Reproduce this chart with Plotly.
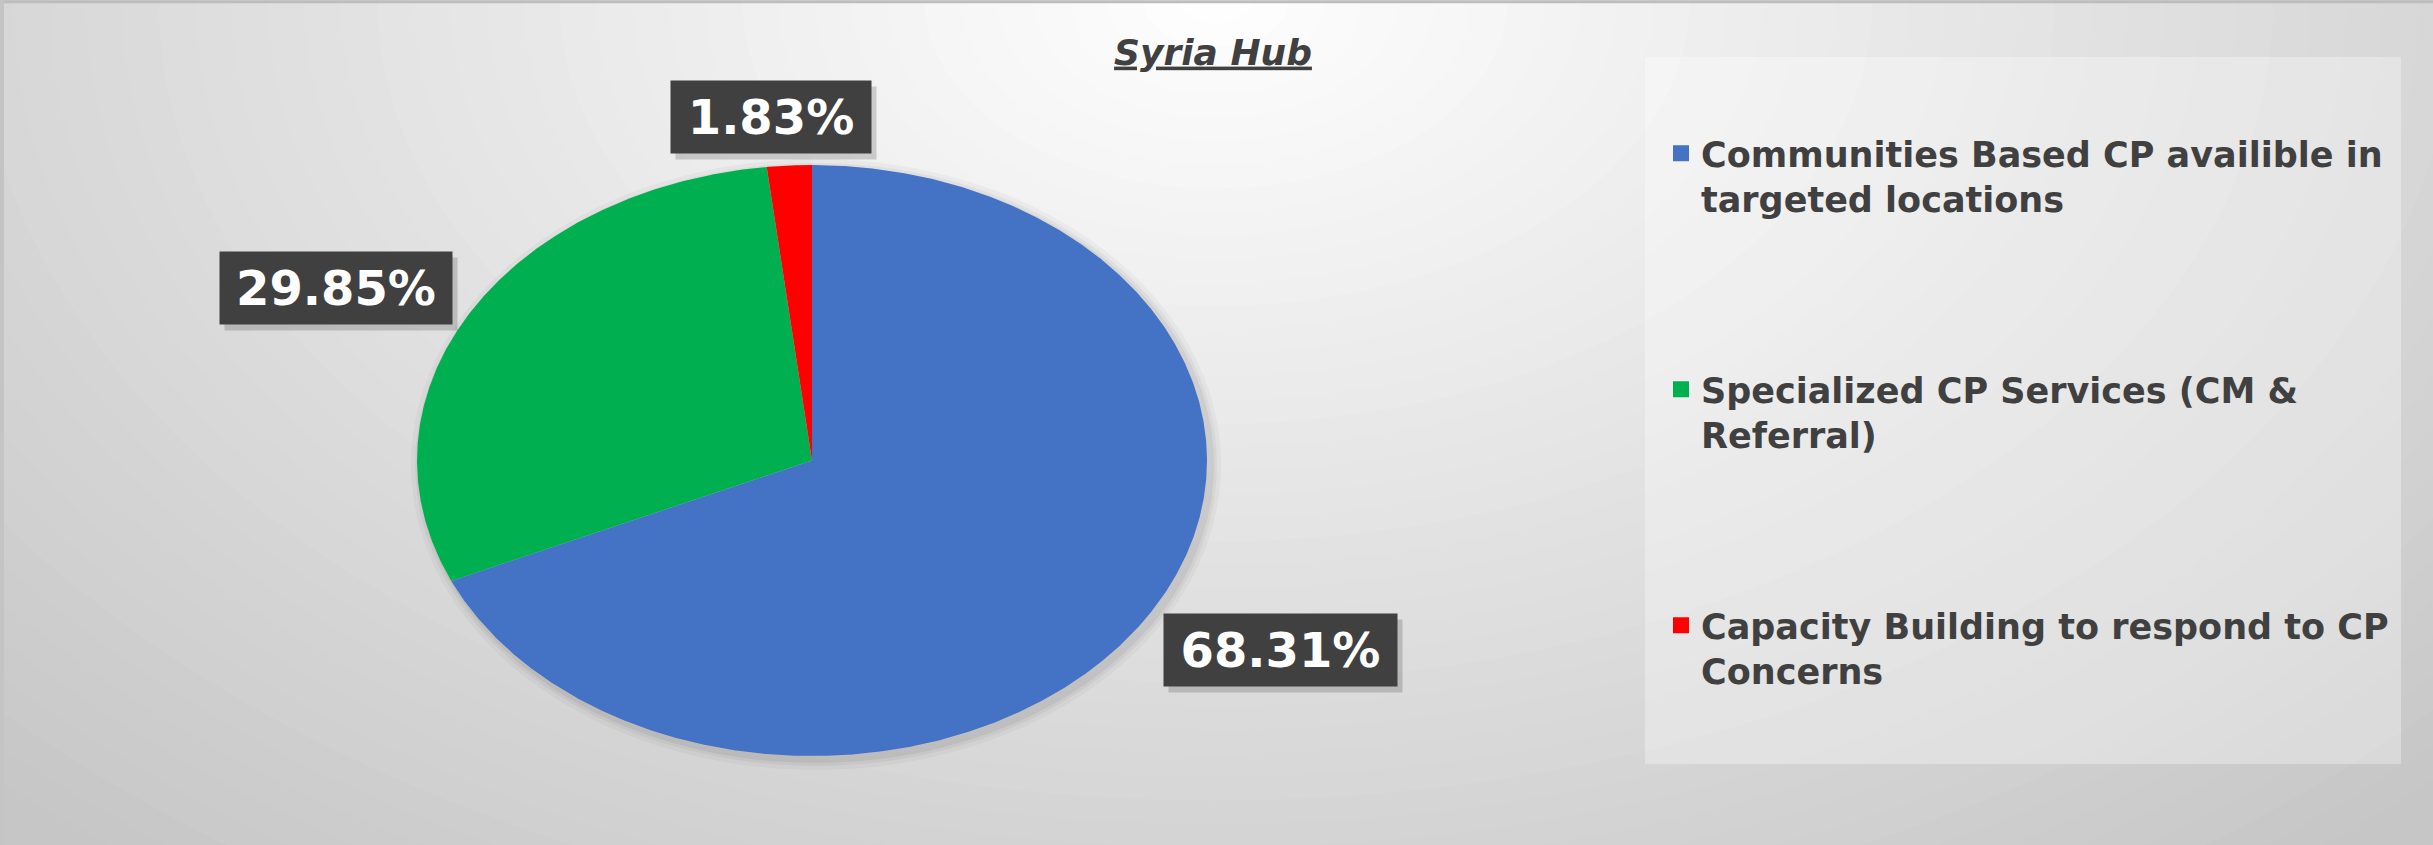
import numpy as np
import plotly.graph_objects as go

# ---------------- data ----------------
categories = [
    "Communities Based CP availible in targeted locations",
    "Specialized CP Services (CM & Referral)",
    "Capacity Building to respond to CP Concerns",
]
legend_names = [
    "Communities Based CP availible in<br>targeted locations",
    "Specialized CP Services (CM &<br>Referral)",
    "Capacity Building to respond to CP<br>Concerns",
]
values = [68.31, 29.85, 1.83]
title_text = "Syria Hub"

# ---------------- style ----------------
W, H = 2433, 845
colors = ["#4472C4", "#00B050", "#FF0000"]
label_box_w = [233, 232, 200]
label_shift = [(137, -29), (-133, 26), (-18, 48)]   # px offset from slice edge point
PIE_L, PIE_R, PIE_T, PIE_B = 417, 1207, 165, 756     # px box of the (stretched) pie

fig = go.Figure()

# pie wedges drawn on cartesian axes (unit circle stretched by axis domains)
total = float(sum(values))
fracs = [v / total for v in values]
start = 0.0
mids = []
for i, (cat, v, f) in enumerate(zip(categories, values, fracs)):
    n = max(int(f * 1440), 6)
    t = np.linspace(start, start + f, n) * 2 * np.pi
    xs = np.concatenate([[0.0], np.sin(t), [0.0]])
    ys = np.concatenate([[0.0], np.cos(t), [0.0]])
    fig.add_trace(go.Scatter(
        x=xs, y=ys, mode="lines", fill="toself", fillcolor=colors[i],
        line=dict(width=0, color=colors[i]), hoveron="fills",
        name=cat, text=f"{cat}: {v:.2f}%", hoverinfo="text", showlegend=False,
    ))
    mids.append((start + f / 2) * 2 * np.pi)
    start += f

# legend entries
for i, name in enumerate(legend_names):
    fig.add_trace(go.Scatter(
        x=[None], y=[None], mode="markers", name=f"<b>{name}</b>",
        marker=dict(symbol="square", size=24, color=colors[i]),
        legendgroup=str(i), showlegend=True, hoverinfo="skip",
    ))

# ---------------- background gradient ----------------
shapes = []
cx, cy = 1216, 0
RX, RY = 1750, 1130
N = 48
for k in range(N, 0, -1):
    r = k / N
    b = int(round(255 - 57 * r))
    shapes.append(dict(
        type="circle", xref="paper", yref="paper", layer="below",
        x0=(cx - RX * r) / W, x1=(cx + RX * r) / W,
        y0=1 - (cy + RY * r) / H, y1=1 - (cy - RY * r) / H,
        fillcolor=f"rgb({b},{b},{b})", line=dict(width=0),
    ))
# legend panel
shapes.append(dict(
    type="rect", xref="paper", yref="paper", layer="below",
    x0=1645 / W, x1=2401 / W, y0=1 - 764 / H, y1=1 - 57 / H,
    fillcolor="rgba(255,255,255,0.32)", line=dict(width=0),
))
# soft shadow around pie
for k, a in [(10, 0.03), (6, 0.04), (3, 0.05)]:
    shapes.append(dict(
        type="circle", xref="paper", yref="paper", layer="below",
        x0=(PIE_L - k + 4) / W, x1=(PIE_R + k + 4) / W,
        y0=1 - (PIE_B + k + 4) / H, y1=1 - (PIE_T - k + 4) / H,
        fillcolor=f"rgba(0,0,0,{a})", line=dict(width=0),
    ))
# frame lines
shapes.append(dict(type="line", xref="paper", yref="paper", x0=0, x1=1, y0=0.998, y1=0.998,
                   line=dict(color="#bdbdbd", width=3)))
shapes.append(dict(type="line", xref="paper", yref="paper", x0=0.0008, x1=0.0008, y0=0, y1=1,
                   line=dict(color="#c4c4c4", width=4)))

# ---------------- data labels ----------------
annotations = []
for i, v in enumerate(values):
    ex, ey = np.sin(mids[i]), np.cos(mids[i])
    dx, dy = label_shift[i]
    annotations.append(dict(
        x=ex, y=ey, xref="x", yref="y", text=" ", showarrow=False,
        xshift=dx + 5, yshift=dy - 6, width=label_box_w[i], height=72,
        bgcolor="rgba(0,0,0,0.16)", borderpad=0,
    ))
    annotations.append(dict(
        x=ex, y=ey, xref="x", yref="y", text=f"{v:.2f}%", showarrow=False,
        xshift=dx, yshift=dy, width=label_box_w[i], height=72,
        bgcolor="#404040", borderpad=0, align="center", valign="middle",
        font=dict(family="DejaVu Sans", size=48, color="white", weight="bold"),
    ))

fig.update_layout(
    width=W, height=H,
    margin=dict(l=0, r=0, t=0, b=0),
    paper_bgcolor="rgb(198,198,198)",
    plot_bgcolor="rgba(0,0,0,0)",
    title=dict(
        text=f"<u>{title_text}</u>", x=1213 / W, y=1 - 52 / H,
        xanchor="center", yanchor="middle", xref="paper", yref="paper",
        font=dict(family="DejaVu Sans", size=36, color="#404040",
                  weight="bold", style="italic"),
    ),
    xaxis=dict(domain=[PIE_L / W, PIE_R / W], range=[-1, 1], visible=False, fixedrange=True),
    yaxis=dict(domain=[1 - PIE_B / H, 1 - PIE_T / H], range=[-1, 1], visible=False, fixedrange=True),
    showlegend=True,
    legend=dict(
        x=1661 / W, y=1 - 124 / H, xanchor="left", yanchor="top",
        bgcolor="rgba(0,0,0,0)", valign="top", tracegroupgap=142,
        font=dict(family="DejaVu Sans", size=35, color="#404040"),
        itemclick=False, itemdoubleclick=False,
    ),
    shapes=shapes,
    annotations=annotations,
)

fig.write_html(
    "out.html",
    config={"displayModeBar": False},
    post_script="document.body.style.margin='0';document.body.style.overflow='hidden';",
)
